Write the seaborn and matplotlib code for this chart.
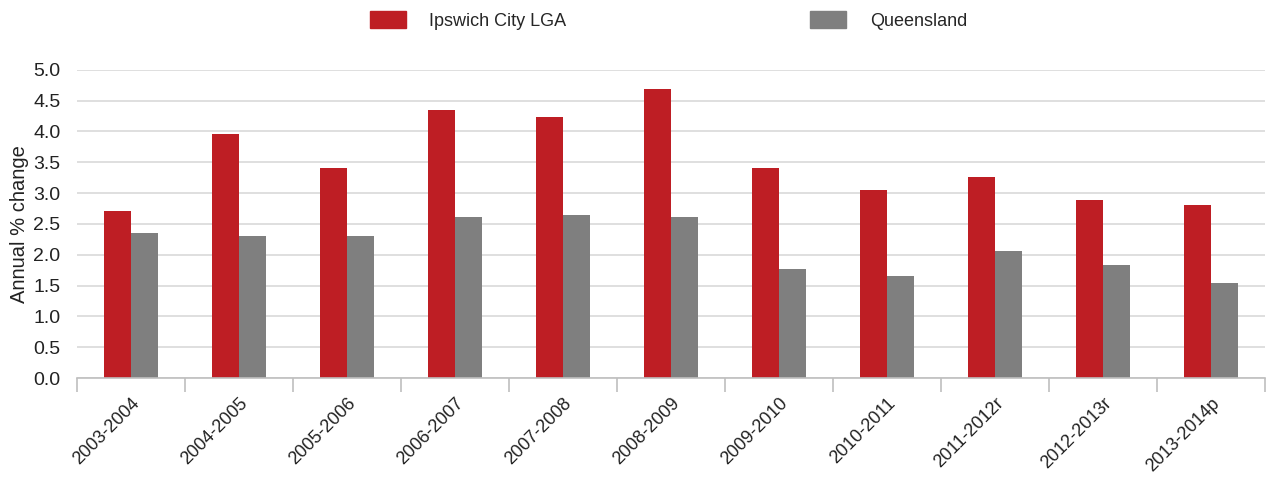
import pandas as pd
import numpy as np
import matplotlib.pyplot as plt
import seaborn as sns
from matplotlib.ticker import FixedLocator

years = ['2003-2004', '2004-2005', '2005-2006', '2006-2007', '2007-2008', '2008-2009',
         '2009-2010', '2010-2011', '2011-2012r', '2012-2013r', '2013-2014p']
ipswich = [2.71, 3.96, 3.41, 4.35, 4.24, 4.69, 3.41, 3.05, 3.26, 2.89, 2.81]
queensland = [2.35, 2.31, 2.31, 2.61, 2.65, 2.61, 1.77, 1.66, 2.06, 1.83, 1.54]
series = ['Ipswich City LGA', 'Queensland']
colours = ['#BE1E24', '#7F7F7F']

df = pd.DataFrame({
    'Year': years * 2,
    'Region': [series[0]] * len(years) + [series[1]] * len(years),
    'Change': ipswich + queensland,
})

sns.set_style('white')
plt.rcParams['font.family'] = ['Liberation Sans', 'DejaVu Sans']

fig = plt.figure(figsize=(12.73, 4.88), dpi=100)
ax = fig.add_axes([0.0605, 0.2254, 0.9335, 0.6316])

sns.barplot(data=df, x='Year', y='Change', hue='Region', palette=colours,
            width=0.5, saturation=1, linewidth=0, ax=ax, legend=False)

ax.set_ylim(0, 5.0)
ax.set_xlim(-0.5, len(years) - 0.5)
yt = np.arange(0, 5.01, 0.5)
ax.set_yticks(yt)
ax.set_yticklabels([f'{v:.1f}' for v in yt], fontsize=14, color='#222222')
ax.grid(axis='y', color='#D9D9D9', linewidth=1.2)
ax.set_axisbelow(True)

for s in ['left', 'right', 'top']:
    ax.spines[s].set_visible(False)
ax.spines['bottom'].set_color('#BFBFBF')
ax.spines['bottom'].set_linewidth(1.2)

ax.set_xticks(range(len(years)))
ax.set_xticklabels(years, rotation=45, ha='right', rotation_mode='anchor', fontsize=13, color='#222222')
ax.tick_params(axis='x', which='major', length=0, pad=12)
ax.xaxis.set_minor_locator(FixedLocator(np.arange(-0.5, len(years) + 0.5, 1)))
ax.tick_params(axis='x', which='minor', length=10, color='#BFBFBF', width=1.2, direction='out', bottom=True)
ax.tick_params(axis='y', length=0, pad=12)

ax.set_xlabel('')
ax.set_ylabel('Annual % change', fontsize=14.5, color='#222222', labelpad=3)

handles = [plt.Rectangle((0, 0), 1, 1, color=c) for c in colours]
fig.legend(handles, series, loc='center', bbox_to_anchor=(0.525, 0.958), ncol=2,
           frameon=False, fontsize=13, handlelength=2.0, handleheight=1.0,
           handletextpad=1.3, columnspacing=13.5)

fig.savefig('out.png', dpi=100)
